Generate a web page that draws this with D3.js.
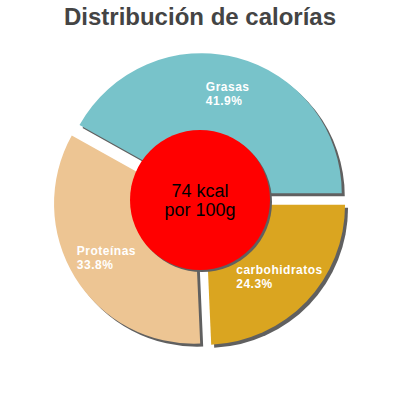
<!DOCTYPE html>
<html>
<head>
<meta charset="utf-8">
<script src="https://cdn.jsdelivr.net/npm/d3@7"></script>
<style>
  body { margin: 0; background: #fff; }
  svg { display: block; }
</style>
</head>
<body>
<div id="chart"></div>
<script>
// calorie split
const categories = ["Grasas", "carbohidratos", "Proteínas"];
const percents = [41.9, 24.3, 33.8];
const sliceColors = ["#78c3ca", "#daa520", "#edc593"];
const centerLines = ["74 kcal", "por 100g"];
const title = "Distribución de calorías";

const width = 400, height = 400;
const cx = 200, cy = 200;
const radius = 140, holeRadius = 70;
const explode = 7;     // slices pushed out along their bisector
const shadowShift = 3;
const labelLine = 14;

const svg = d3.select("#chart").append("svg")
    .attr("width", width)
    .attr("height", height);

svg.append("text")
    .attr("x", width / 2)
    .attr("y", 25)
    .attr("text-anchor", "middle")
    .style("font-family", "'Liberation Sans', Arial, sans-serif")
    .style("font-weight", "bold")
    .style("font-size", "24px")
    .style("fill", "#444")
    .text(title);

//first slice ends at 3 o'clock, the rest go on clockwise
const total = d3.sum(percents);
const start = Math.PI / 2 - 2 * Math.PI * percents[0] / total;
const pie = d3.pie().sort(null)
    .startAngle(start)
    .endAngle(start + 2 * Math.PI);

const slices = pie(percents).map((d, i) => Object.assign(d, {
    name: categories[i],
    color: sliceColors[i]
}));

const arc = d3.arc().innerRadius(0).outerRadius(radius);
const labelArc = d3.arc().innerRadius(110).outerRadius(110);

const shift = d => {
    let mid = (d.startAngle + d.endAngle) / 2;
    return [Math.sin(mid) * explode, -Math.cos(mid) * explode];
};

const g = svg.append("g")
    .attr("transform", `translate(${cx},${cy})`);

//shadows first so every slice sits above them
g.selectAll("path.shadow")
    .data(slices)
    .join("path")
    .attr("class", "shadow")
    .attr("d", arc)
    .attr("fill", "#606060")
    .attr("transform", d => {
	let [dx, dy] = shift(d);
	return `translate(${dx + shadowShift},${dy + shadowShift})`;
    });

g.selectAll("path.slice")
    .data(slices)
    .join("path")
    .attr("class", "slice")
    .attr("d", arc)
    .attr("fill", d => d.color)
    .attr("transform", d => {
	let [dx, dy] = shift(d);
	return `translate(${dx},${dy})`;
    });

//labels: two left-aligned lines, block centred on the label point
const labels = g.selectAll("text.label")
    .data(slices)
    .join("text")
    .attr("class", "label")
    .style("font-family", "'Liberation Sans', Arial, sans-serif")
    .style("font-weight", "bold")
    .style("font-size", "12px")
    .style("letter-spacing", "0.5px")
    .style("fill", "#fff");

labels.append("tspan").text(d => d.name);
labels.append("tspan").text(d => d3.format(".1f")(d.value) + "%");

labels.each(function(d) {
    let t = d3.select(this);
    let w = d3.max(t.selectAll("tspan").nodes(), n => n.getComputedTextLength());
    let [lx, ly] = labelArc.centroid(d);
    let x0 = lx - w / 2;
    t.selectAll("tspan")
	.attr("x", x0)
	.attr("y", (_, i) => ly - 2.5 + i * labelLine);
});

//centre disc
g.append("circle")
    .attr("cx", 2)
    .attr("cy", 2)
    .attr("r", holeRadius)
    .attr("fill", "#606060");

g.append("circle")
    .attr("r", holeRadius)
    .attr("fill", "#ff0000");

g.append("text")
    .attr("text-anchor", "middle")
    .style("font-family", "'Liberation Sans', Arial, sans-serif")
    .style("font-size", "18px")
    .style("fill", "#000")
    .selectAll("tspan")
    .data(centerLines)
    .join("tspan")
    .attr("x", 0)
    .attr("y", (d, i) => -3.5 + i * 19)
    .text(d => d);
</script>
</body>
</html>
